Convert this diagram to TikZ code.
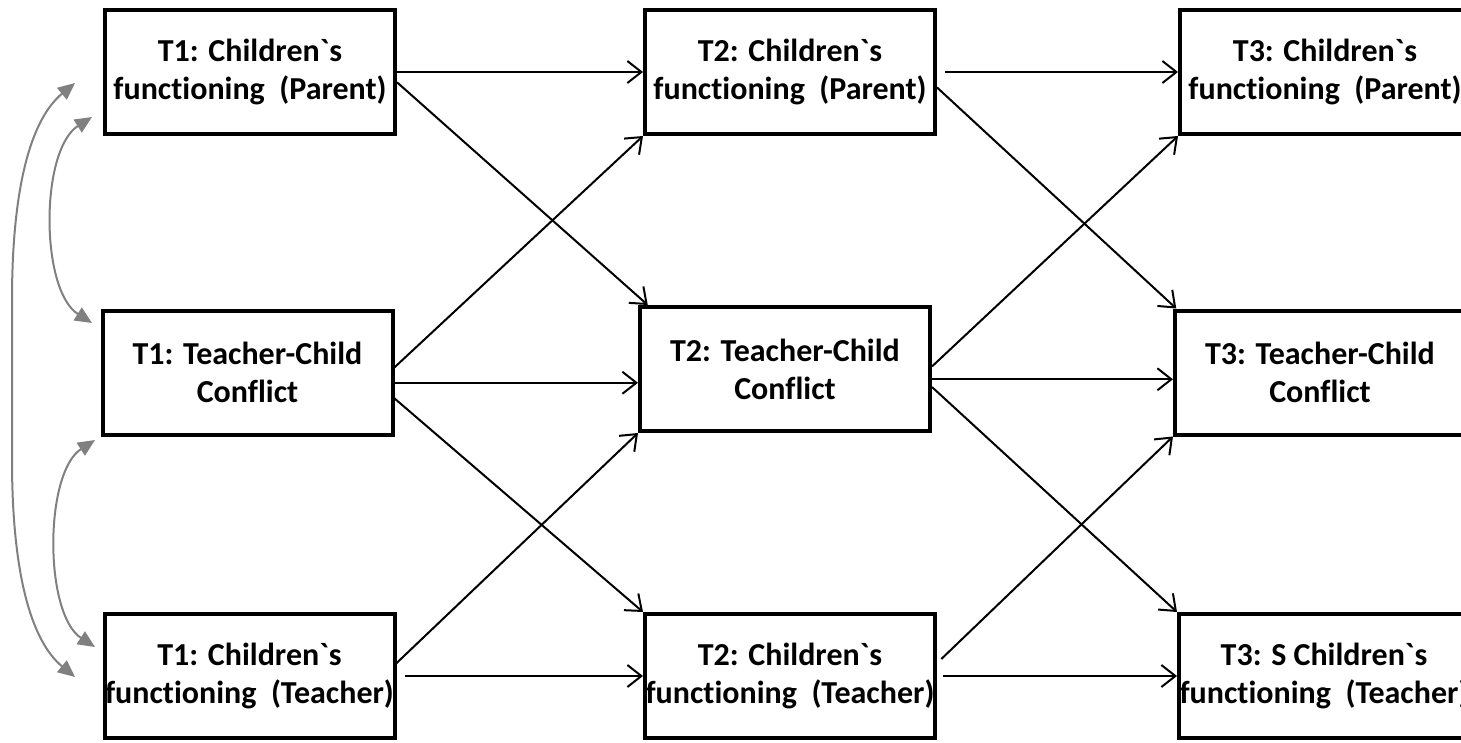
\documentclass[tikz,border=0pt]{standalone}
\usepackage{fontspec}
\setmainfont{Carlito}[Ligatures={TeX,NoCommon}]
\usetikzlibrary{arrows.meta}
\newcommand{\bq}{\textasciigrave}

\begin{document}
\begin{tikzpicture}[x=1pt,y=-1pt,
    box/.style={draw,line width=4pt,fill=white,minimum width=290pt,minimum height=124pt,
        inner sep=0pt,align=center,font=\fontsize{32}{38}\selectfont\bfseries},
    effect/.style={line width=2pt,-{Straight Barb[length=14pt,width=22pt,line width=2pt]}},
    corr/.style={line width=2pt,draw=gray,
        {Triangle[length=17pt,width=15pt]}-{Triangle[length=17pt,width=15pt]}}]
    \useasboundingbox (0,0) rectangle (1461,742);
    \clip (0,0) rectangle (1461,742);

    % Boxes at T1
    \node [box] (par1) at (250,72) {T1: Children\bq s\\functioning~~(Parent)};%
    \node [box] (con1) at (247.5,372.5) {T1: Teacher-Child\\Conflict};%
    \node [box] (tea1) at (249.5,676) {T1: Children\bq s\\functioning~~(Teacher)};%

    % Boxes at T2
    \node [box] (par2) at (790,72) {T2: Children\bq s\\functioning~~(Parent)};%
    \node [box] (con2) at (785,369) {T2: Teacher-Child\\Conflict};%
    \node [box] (tea2) at (790,676) {T2: Children\bq s\\functioning~~(Teacher)};%

    % Boxes at T3
    \node [box] (par3) at (1325,72) {T3: Children\bq s\\functioning~~(Parent)};%
    \node [box] (con3) at (1320,372.5) {T3: Teacher-Child\\Conflict};%
    \node [box] (tea3) at (1324,676) {T3: S Children\bq s\\functioning~~(Teacher)};%

    % Paths T1 to T2
    \draw [effect] (par1.east) -- (par2.west);%
    \draw [effect] (par1.-4) -- (con2.155);%
    \draw [effect] (con1.2) -- (par2.south west);%
    \draw [effect] (con1.-4) -- (con1.-4 -| con2.west);%
    \draw [effect] (con1.-10) -- (tea2.north west);%
    \draw [effect] (tea1.5) -- (con2.south west);%
    \draw [effect,shorten <=8pt] (tea1.east) -- (tea2.west);%

    % Paths T2 to T3
    \draw [effect,shorten <=8pt] (par2.east) -- (par3.west);%
    \draw [effect] (par2.-6) -- (con3.156);%
    \draw [effect] (con2.1) -- (par3.south west);%
    \draw [effect] (con2.-4) -- (con2.-4 -| con3.west);%
    \draw [effect] (con2.-7) -- (tea3.north west);%
    \draw [effect,shorten <=6pt] (tea2.5) -- (con3.south west);%
    \draw [effect,shorten <=6pt] (tea2.east) -- (tea3.west);%

    % Correlations at T1
    \coordinate (r1) at (92,117);
    \coordinate (r2) at (92,323);
    \coordinate (r3) at (95,440);
    \coordinate (r4) at (95,647);
    \coordinate (o1) at (75,83);
    \coordinate (o2) at (75,677);
    \draw [corr] (r1) .. controls (40,150) and (40,290) .. (r2);%
    \draw [corr] (r3) .. controls (44,473) and (44,614) .. (r4);%
    \draw [corr] (o1) .. controls (30,120) and (12,190) .. (12,300) -- (12,460)
        .. controls (12,570) and (30,640) .. (o2);%
\end{tikzpicture}
\end{document}
